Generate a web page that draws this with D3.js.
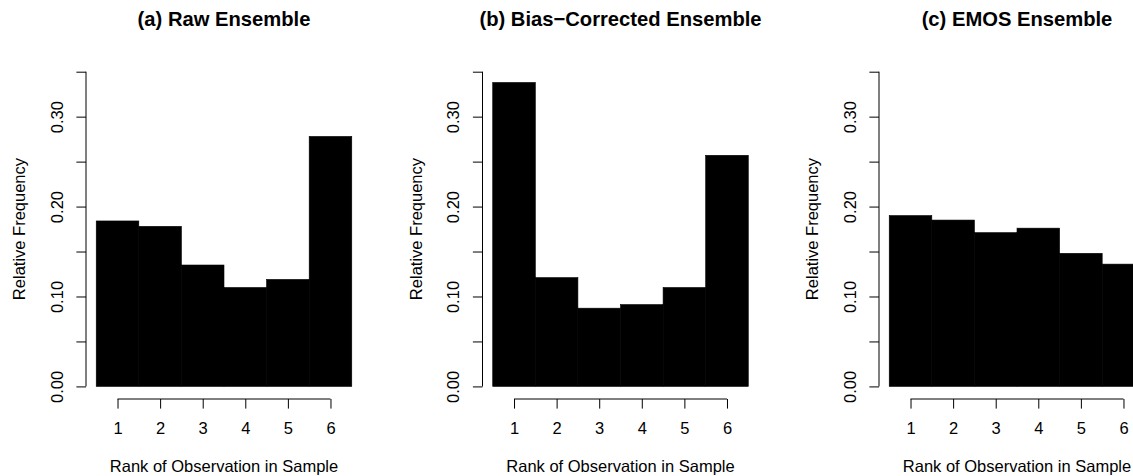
<!DOCTYPE html>
<html>
<head>
<meta charset="utf-8">
<script src="https://cdn.jsdelivr.net/npm/d3@7"></script>
<style>
  html, body { margin: 0; padding: 0; background: #fff; overflow: hidden; }
  svg { display: block; }
  text { font-family: "Liberation Sans", Arial, Helvetica, sans-serif; fill: #000; }
</style>
</head>
<body>
<svg id="chart" width="1133" height="476"></svg>
<script>
// Rank histogram data: relative frequency of the observation's rank (1..6)
const ranks = [1, 2, 3, 4, 5, 6];
const panelTitles = ["(a) Raw Ensemble", "(b) Bias\u2212Corrected Ensemble", "(c) EMOS Ensemble"];
const rawFreq = [0.184, 0.178, 0.135, 0.110, 0.119, 0.278];
const biasCorrectedFreq = [0.338, 0.121, 0.087, 0.091, 0.110, 0.257];
const emosFreq = [0.190, 0.185, 0.171, 0.176, 0.148, 0.136];
const yTicks = [0, 0.05, 0.10, 0.15, 0.20, 0.25, 0.30, 0.35];
const yTickLabels = ["0.00", "", "0.10", "", "0.20", "", "0.30", ""];
const xLabel = "Rank of Observation in Sample";
const yLabel = "Relative Frequency";

const series = [rawFreq, biasCorrectedFreq, emosFreq];

const svg = d3.select("#chart");

// layout of each panel (R-style plot region)
const panelW = 396.5;
const plotLeft = 86;
const plotW = 276;
const plotTop = 59.1;
const plotBottom = 399;
const tickLen = 9.6;
const axisFont = "16.5px";
const titleFont = "20.2px";

series.forEach((vals, i) => {
  const ox = i * panelW;
  const g = svg.append("g").attr("transform", `translate(${ox},0)`);

  const x = d3.scaleLinear().domain([0.26, 6.74]).range([plotLeft, plotLeft + plotW]);
  const y = d3.scaleLinear().domain([-0.014, 0.364]).range([plotBottom, plotTop]);

  // bars: one bin per rank, edges at rank +/- 0.5
  g.selectAll("rect.bar")
    .data(vals)
    .join("rect")
    .attr("class", "bar")
    .attr("x", (d, j) => x(ranks[j] - 0.5))
    .attr("width", (d, j) => x(ranks[j] + 0.5) - x(ranks[j] - 0.5))
    .attr("y", d => y(d))
    .attr("height", d => y(0) - y(d))
    .attr("fill", "#000")
    .attr("stroke", "#000")
    .attr("stroke-width", 0.6);

  // y axis
  const yAxis = d3.axisLeft(y)
    .tickValues(yTicks)
    .tickSize(tickLen)
    .tickPadding(0)
    .tickFormat((d, j) => yTickLabels[j]);
  const ya = g.append("g").attr("transform", `translate(${plotLeft},0)`).call(yAxis);
  ya.select(".domain").remove();
  ya.append("line")
    .attr("x1", 0).attr("x2", 0)
    .attr("y1", y(yTicks[0])).attr("y2", y(yTicks[yTicks.length - 1]))
    .attr("stroke", "#000").attr("stroke-width", 1);
  ya.selectAll(".tick line").attr("stroke", "#000").attr("stroke-width", 1);
  ya.selectAll(".tick text")
    .attr("x", 0).attr("y", 0).attr("dy", null)
    .attr("transform", "translate(-23.3,0) rotate(-90)")
    .attr("text-anchor", "middle")
    .style("font-size", axisFont)
    .style("font-family", "'Liberation Sans', Arial, sans-serif")
    .attr("fill", "#000");

  // x axis
  const xAxis = d3.axisBottom(x)
    .tickValues(ranks)
    .tickSize(tickLen)
    .tickPadding(0)
    .tickFormat(d3.format("d"));
  const xa = g.append("g").attr("transform", `translate(0,${plotBottom})`).call(xAxis);
  xa.select(".domain").remove();
  xa.append("line")
    .attr("x1", x(ranks[0])).attr("x2", x(ranks[ranks.length - 1]))
    .attr("y1", 0).attr("y2", 0)
    .attr("stroke", "#000").attr("stroke-width", 1);
  xa.selectAll(".tick line").attr("stroke", "#000").attr("stroke-width", 1);
  xa.selectAll(".tick text")
    .attr("y", 35).attr("dy", null)
    .style("font-size", axisFont)
    .style("font-family", "'Liberation Sans', Arial, sans-serif")
    .attr("fill", "#000");

  const cx = plotLeft + plotW / 2;

  // axis titles
  g.append("text")
    .attr("x", cx).attr("y", 472)
    .attr("text-anchor", "middle")
    .style("font-size", axisFont)
    .text(xLabel);

  g.append("text")
    .attr("transform", `translate(25,${(plotTop + plotBottom) / 2}) rotate(-90)`)
    .attr("text-anchor", "middle")
    .style("font-size", axisFont)
    .text(yLabel);

  // panel title
  g.append("text")
    .attr("x", cx).attr("y", 26)
    .attr("text-anchor", "middle")
    .style("font-size", titleFont)
    .style("font-weight", "bold")
    .text(panelTitles[i]);
});
</script>
</body>
</html>
